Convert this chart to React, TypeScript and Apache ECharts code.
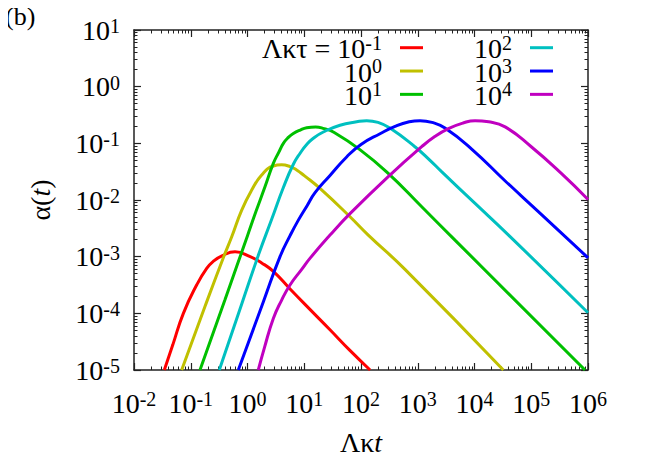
import React, { useEffect, useRef } from 'react';
import * as echarts from 'echarts';

const serif = "'Liberation Serif', 'Times New Roman', Times, serif";

// Λκτ values (legend labels) and colours
const seriesNames = ['10^-1', '10^0', '10^1', '10^2', '10^3', '10^4'];
const seriesColors = ['#ff0000', '#c0c000', '#00c000', '#00c0c0', '#0000ff', '#c000c0'];

// Λκt (x) and α(t) (y) values
const redX = [0.0342, 0.0481, 0.0741, 0.127, 0.191, 0.251, 0.355, 0.603, 1.114, 1.778, 2.851, 5.623, 12.59, 28.4, 63.1, 144.5];
const redY = [1e-5, 2.75e-5, 1e-4, 3.16e-4, 6.21e-4, 8.32e-4, 1.035e-3, 1.216e-3, 1.0e-3, 7.76e-4, 5.5e-4, 2.69e-4, 1.175e-4, 5.13e-5, 2.24e-5, 1e-5];

const yellowX = [0.0692, 0.178, 0.375, 0.527, 0.791, 1.186, 1.778, 2.851, 3.981, 5.623, 7.345, 10, 18.92, 64.0, 134.3, 595.7, 32210];
const yellowY = [1e-5, 1.318e-4, 9.55e-4, 2.24e-3, 6.64e-3, 1.496e-2, 2.754e-2, 3.98e-2, 4.17e-2, 3.89e-2, 3.39e-2, 2.69e-2, 1.6e-2, 5.06e-3, 2.4e-3, 5.97e-4, 1e-5];

const greenX = [0.1455, 0.398, 0.646, 1.0, 1.413, 2.032, 2.851, 3.548, 4.285, 5.248, 6.427, 8.511, 11.04, 15.85, 22.39, 32.51, 95.5, 302, 1175, 4529, 885100];
const greenY = [1e-5, 1.698e-4, 6.76e-4, 2.344e-3, 6.31e-3, 1.71e-2, 4.43e-2, 6.92e-2, 0.1, 0.1274, 0.1493, 0.1718, 0.1884, 0.195, 0.182, 0.1585, 0.0776, 0.0295, 7.59e-3, 1.96e-3, 1e-5];

const cyanX = [0.3184, 0.794, 1.585, 2.667, 4.285, 6.427, 8.511, 11.04, 14.45, 21.68, 42.66, 83.95, 125.9, 199.5, 323.6, 891.3, 1644, 2630, 10230, 39810, 1e6];
const cyanY = [1e-5, 1.479e-4, 1.122e-3, 4.57e-3, 1.66e-2, 4.27e-2, 6.76e-2, 9.55e-2, 0.123, 0.1585, 0.2089, 0.2399, 0.2512, 0.2344, 0.1862, 0.0871, 0.0501, 0.0316, 8.71e-3, 2.4e-3, 1.023e-4];

const blueX = [0.6887, 1.897, 3.741, 5.623, 7.87, 11.22, 15.49, 28.18, 55.85, 100, 216.3, 398.1, 707.9, 1096, 1778, 3020, 8913, 34430, 131800, 1e6];
const blueY = [1e-5, 1.585e-4, 1e-3, 2.344e-3, 4.416e-3, 7.94e-3, 1.349e-2, 2.69e-2, 5.75e-2, 9.55e-2, 0.1479, 0.1995, 0.2399, 0.2512, 0.2344, 0.1862, 0.0794, 0.02188, 6.31e-3, 9.55e-4];

const magentaX = [1.549, 1.995, 2.851, 3.981, 5.61, 9.016, 12.59, 28.44, 63.97, 323.6, 1175, 1995, 3467, 6310, 10230, 17780, 34670, 100000, 338800, 1e6];
const magentaY = [1e-5, 2.512e-5, 8.13e-5, 1.698e-4, 3.162e-4, 5.97e-4, 9.33e-4, 2.4e-3, 5.75e-3, 2.754e-2, 8.71e-2, 0.1318, 0.182, 0.229, 0.2512, 0.2399, 0.195, 0.0871, 0.0295, 0.01023];

const allX = [redX, yellowX, greenX, cyanX, blueX, magentaX];
const allY = [redY, yellowY, greenY, cyanY, blueY, magentaY];

const xMin = 1e-2;
const xMax = 1e6;
const yMin = 1e-5;
const yMax = 1e1;

const axisRich = {
  b: { fontFamily: serif, fontSize: 28, lineHeight: 28, verticalAlign: 'bottom', color: '#000' },
  s: { fontFamily: serif, fontSize: 20, lineHeight: 10, verticalAlign: 'top', color: '#000' },
};

const legendRich = {
  b: { fontFamily: serif, fontSize: 28, lineHeight: 30, verticalAlign: 'bottom', color: '#000' },
  s: { fontFamily: serif, fontSize: 20, lineHeight: 4, verticalAlign: 'top', color: '#000' },
};

const powLabel = (v: number) => `{b|10}{s|${Math.round(Math.log10(v))}}`;

const legendLabel = (name: string) => {
  const exp = name.split('^')[1];
  const prefix = name === seriesNames[0] ? 'Λκτ = ' : '';
  return `{b|${prefix}10}{s|${exp}}`;
};

function logAxis(min: number, max: number, position: string, showLabel: boolean) {
  return {
    type: 'log',
    logBase: 10,
    min,
    max,
    interval: 1,
    position,
    axisLine: { show: true, onZero: false, lineStyle: { color: '#222', width: 1.5 } },
    axisTick: { show: true, inside: true, length: 7, lineStyle: { color: '#222', width: 1.2 } },
    minorTick: { show: true, splitNumber: 9, length: 3.5, lineStyle: { color: '#222', width: 1 } },
    splitLine: { show: false },
    minorSplitLine: { show: false },
    axisLabel: showLabel
      ? {
          show: true,
          interval: 0,
          showMinLabel: true,
          showMaxLabel: true,
          hideOverlap: false,
          formatter: powLabel,
          rich: axisRich,
        }
      : { show: false },
  };
}

export default function App() {
  const ref = useRef<HTMLDivElement>(null);

  useEffect(() => {
    if (!ref.current) return;
    const chart = echarts.init(ref.current, null, { renderer: 'svg' });

    const xBottom: any = logAxis(xMin, xMax, 'bottom', true);
    xBottom.axisLabel.margin = 19;
    xBottom.name = '{a|Λκ}{i|t}';
    xBottom.nameLocation = 'middle';
    xBottom.nameGap = 58;
    xBottom.nameTextStyle = {
      rich: {
        a: { fontFamily: serif, fontSize: 28, color: '#000' },
        i: { fontFamily: serif, fontSize: 28, fontStyle: 'italic', color: '#000' },
      },
    };
    const xTop: any = logAxis(xMin, xMax, 'top', false);

    const yLeft: any = logAxis(yMin, yMax, 'left', true);
    yLeft.axisLabel.margin = 14;
    yLeft.name = '{a|α(}{i|t}{a|)}';
    yLeft.nameLocation = 'middle';
    yLeft.nameGap = 80;
    yLeft.nameTextStyle = {
      rich: {
        a: { fontFamily: serif, fontSize: 28, color: '#000' },
        i: { fontFamily: serif, fontSize: 28, fontStyle: 'italic', color: '#000' },
      },
    };
    const yRight: any = logAxis(yMin, yMax, 'right', false);

    const legendCommon = {
      orient: 'vertical',
      align: 'right',
      icon: 'rect',
      itemWidth: 23,
      itemHeight: 3,
      itemGap: -6.67,
      padding: 0,
      selectedMode: false,
      formatter: legendLabel,
      textStyle: { rich: legendRich, padding: [0, 13, 0, 0] },
    };

    chart.setOption({
      animation: false,
      backgroundColor: '#fff',
      grid: { left: 134, right: 76, top: 30, bottom: 95 },
      xAxis: [xBottom, xTop],
      yAxis: [yLeft, yRight],
      legend: [
        { ...legendCommon, right: 241, top: 32.7, data: seriesNames.slice(0, 3) },
        { ...legendCommon, right: 111, top: 32.7, data: seriesNames.slice(3) },
      ],
      graphic: [
        {
          type: 'text',
          left: 5,
          top: 3,
          style: { text: '(b)', font: "26px 'Liberation Serif', 'Times New Roman', serif", fill: '#000' },
        },
      ],
      series: seriesNames.map((name, i) => ({
        name,
        type: 'line',
        xAxisIndex: 0,
        yAxisIndex: 0,
        data: allX[i].map((x, j) => [x, allY[i][j]]),
        showSymbol: false,
        symbol: 'none',
        smooth: 0.5,
        clip: true,
        lineStyle: { color: seriesColors[i], width: 3 },
        itemStyle: { color: seriesColors[i] },
      })),
    });

    return () => chart.dispose();
  }, []);

  return <div ref={ref} style={{ width: 664, height: 465, marginLeft: -8, marginTop: -8 }} />;
}
